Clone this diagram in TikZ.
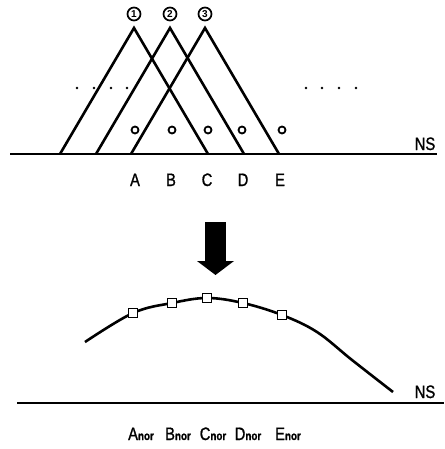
\documentclass[tikz,border=0pt]{standalone}
\usepackage{fontspec}
\setmainfont{Liberation Sans}
\newfontfamily\labfont[FakeBold=1.2]{Liberation Sans}
\newcommand{\nsub}{{\fontsize{12}{12}\selectfont\bfseries nor}}
\newcommand{\nar}[1]{\scalebox{0.82}[1]{#1}}
\begin{document}
\begin{tikzpicture}[x=1pt,y=-1pt,
  tri/.style={line width=2.6pt,line join=miter},
  base/.style={line width=1.2pt},
  lbl/.style={font=\labfont\fontsize{18}{20}\selectfont,inner sep=0pt},
  num/.style={circle,draw,line width=1.7pt,minimum size=13pt,inner sep=0pt,
    font=\bfseries\fontsize{10}{10}\selectfont},
  dotc/.style={circle,fill=black,minimum size=2.8pt,inner sep=0pt},
  smallo/.style={circle,draw,line width=1.8pt,minimum size=7pt,inner sep=0pt},
  sq/.style={rectangle,draw,line width=1.2pt,minimum size=9.5pt,inner sep=0pt,fill=white}]
\useasboundingbox (0,0) rectangle (444,449);
% top baseline
\coordinate (b1l) at (10,154);
\coordinate (b1r) at (437,154);
\draw[base] (b1l) -- (b1r);
\node[lbl,anchor=base] (ns1) at (425,150) {\nar{NS}};
% triangles
\coordinate (t1a) at (134,28); \coordinate (t1l) at (60,154); \coordinate (t1r) at (208,154);
\coordinate (t2a) at (170,28); \coordinate (t2l) at (96,154); \coordinate (t2r) at (244,154);
\coordinate (t3a) at (205,28); \coordinate (t3l) at (131,154); \coordinate (t3r) at (279,154);
\draw[tri] (t1l) -- (t1a) -- (t1r);
\draw[tri] (t2l) -- (t2a) -- (t2r);
\draw[tri] (t3l) -- (t3a) -- (t3r);
\node[num] (n1) at (134,14) {1};
\node[num] (n2) at (170,14) {2};
\node[num] (n3) at (205,14) {3};
% dots
\foreach \x [count=\i] in {77,94,111,127} \node[dotc] (dl\i) at (\x,88) {};
\foreach \x [count=\i] in {306,322,339,356} \node[dotc] (dr\i) at (\x,88) {};
% small circles
\foreach \x [count=\i] in {135,172,208,242,282} \node[smallo] (o\i) at (\x,130) {};
% letters
\node[lbl,anchor=base] (A) at (135,186) {\nar{A}};
\node[lbl,anchor=base] (B) at (171,186) {\nar{B}};
\node[lbl,anchor=base] (C) at (207,186) {\nar{C}};
\node[lbl,anchor=base] (D) at (243,186) {\nar{D}};
\node[lbl,anchor=base] (E) at (280,186) {\nar{E}};
% arrow
\fill (205,222) rectangle (226,262);
\fill (197,261) -- (234,261) -- (215.5,275) -- cycle;
% curve
\draw[line width=2.6pt] plot[smooth,tension=0.6] coordinates
  {(85,342) (133,313) (172,303) (207,298) (243,303) (282,315) (317,332) (352,360) (393,392)};
\node[sq] (s1) at (133,313) {};
\node[sq] (s2) at (172,303) {};
\node[sq] (s3) at (207,298) {};
\node[sq] (s4) at (243,303) {};
\node[sq] (s5) at (282,315) {};
% bottom baseline
\coordinate (b2l) at (17,403);
\coordinate (b2r) at (444,403);
\draw[base] (b2l) -- (b2r);
\node[lbl,anchor=base] (ns2) at (425,398) {\nar{NS}};
% bottom labels
\node[lbl,anchor=base] (An) at (141,440) {\nar{A\nsub}};
\node[lbl,anchor=base] (Bn) at (178,440) {\nar{B\nsub}};
\node[lbl,anchor=base] (Cn) at (213,440) {\nar{C\nsub}};
\node[lbl,anchor=base] (Dn) at (248,440) {\nar{D\nsub}};
\node[lbl,anchor=base] (En) at (288,440) {\nar{E\nsub}};
\end{tikzpicture}
\end{document}
